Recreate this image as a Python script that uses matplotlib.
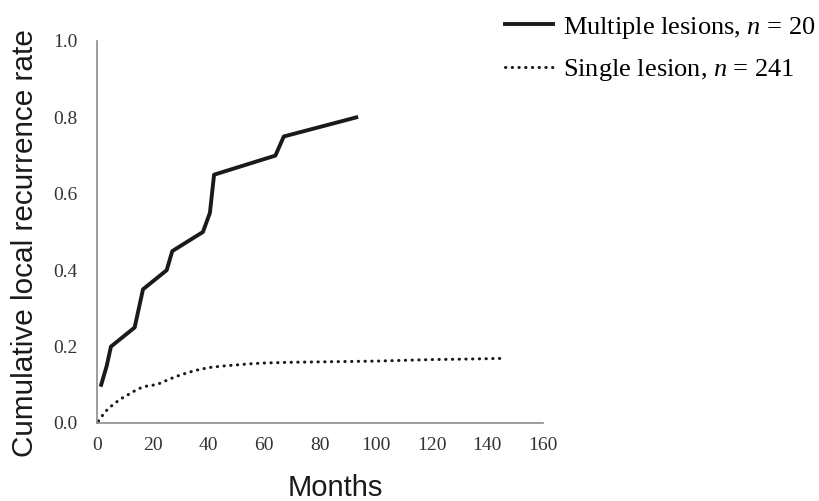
import matplotlib
matplotlib.use('Agg')
import matplotlib.pyplot as plt

plt.rcParams['mathtext.fontset'] = 'custom'
plt.rcParams['mathtext.rm'] = 'Liberation Serif'
plt.rcParams['mathtext.it'] = 'Liberation Serif:italic'

# 多发病灶 (Multiple lesions)
multi_months = [1.5, 3.5, 5, 13.5, 15, 16.5, 25, 27, 38, 40.5, 42, 64, 67, 93]
multi_rate = [0.10, 0.15, 0.20, 0.25, 0.30, 0.35, 0.40, 0.45, 0.50, 0.55, 0.65, 0.70, 0.75, 0.80]

# 单发病灶 (Single lesion)
single_months = [0.5, 3, 6, 9, 12.5, 15, 18, 21, 23, 26, 30, 35, 40, 45, 50, 55, 60,
                 70, 80, 90, 100, 110, 120, 130, 145]
single_rate = [0.005, 0.03, 0.05, 0.065, 0.08, 0.09, 0.097, 0.10, 0.105, 0.115, 0.126,
               0.137, 0.145, 0.149, 0.152, 0.155, 0.157, 0.159, 0.160, 0.161, 0.162,
               0.164, 0.166, 0.167, 0.169]

x_ticks = [0, 20, 40, 60, 80, 100, 120, 140, 160]
y_ticks = [0.0, 0.2, 0.4, 0.6, 0.8, 1.0]

fig = plt.figure(figsize=(8.2, 5.01), dpi=100)
ax = fig.add_axes([0.1183, 0.1557, 0.5439, 0.7625])

ax.plot(multi_months, multi_rate, color='#1a1a1a', lw=2.8,
        label='Multiple lesions, $n$ = 20')
ax.plot(single_months, single_rate, color='#1a1a1a', lw=2.2,
        linestyle=(0, (0.1, 2.1)), dash_capstyle='round',
        label='Single lesion, $n$ = 241')

ax.set_xlim(0, 160)
ax.set_ylim(0, 1.0)
ax.set_xticks(x_ticks)
ax.set_yticks(y_ticks)
ax.set_yticklabels([f'{v:.1f}' for v in y_ticks])
ax.tick_params(axis='y', length=0, pad=14, labelsize=14, colors='#333333')
ax.tick_params(axis='x', length=0, pad=10, labelsize=14, colors='#333333')
for lab in ax.get_xticklabels() + ax.get_yticklabels():
    lab.set_fontfamily('Liberation Serif')

for s in ['top', 'right']:
    ax.spines[s].set_visible(False)
for s in ['left', 'bottom']:
    ax.spines[s].set_color('#8c8c8c')
    ax.spines[s].set_linewidth(1.2)

ax.set_xlabel('Months', fontfamily='Liberation Sans', fontsize=21, color='#1a1a1a')
ax.xaxis.set_label_coords(0.534, -0.133)
ax.set_ylabel('Cumulative local recurrence rate', fontfamily='Liberation Sans',
              fontsize=21.4, color='#1a1a1a')
ax.yaxis.set_label_coords(-0.13, 0.47)

leg = fig.legend(loc='upper left', bbox_to_anchor=(505 / 820, 0.971), frameon=False,
                 prop={'family': 'Liberation Serif', 'size': 19},
                 handlelength=1.8, handletextpad=0.4, labelspacing=0.63,
                 borderpad=0, borderaxespad=0)

fig.savefig('out.png', dpi=100)
